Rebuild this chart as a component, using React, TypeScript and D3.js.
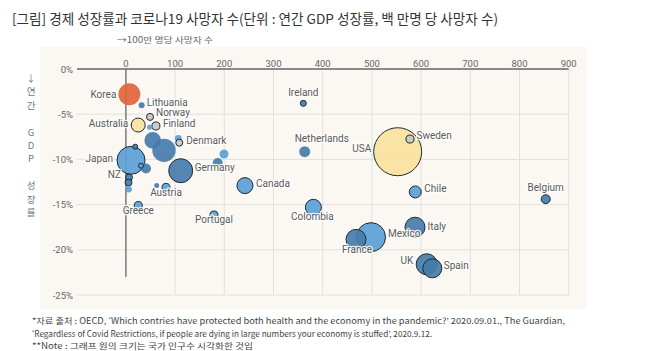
import React from "react";
import * as d3 from "d3";

// ---------- data ----------
const countries = [
  "Korea", "Lithuania", "Norway", "Australia", "Finland", "", "", "",
  "Denmark", "", "", "", "Japan", "", "", "", "Germany",
  "NZ", "", "", "", "Austria", "Greece", "Portugal", "Canada",
  "Ireland", "Netherlands", "USA", "Sweden", "Chile", "Belgium",
  "Colombia", "France", "Mexico", "Italy", "UK", "Spain",
];
// deaths per million
const deaths = [
  7, 32, 49, 25, 61, 48, 54.5, 77.4,
  106.5, 108.5, 199.4, 186.6, 10.4, 19, 30.7, 40.9, 111.4,
  6.3, 5.3, 5.3, 62.6, 81.5, 25.2, 179, 242,
  360.6, 363.4, 552.4, 577.4, 588.2, 853.3,
  381, 467.7, 498.2, 587.6, 611.4, 622.8,
];
// annual GDP growth %
const gdp = [
  -2.8, -4.0, -5.3, -6.2, -6.3, -6.45, -7.9, -9.0,
  -7.7, -8.15, -9.4, -10.4, -10.1, -8.6, -10.7, -11.0, -11.25,
  -12.0, -12.55, -13.3, -12.9, -13.1, -15.1, -16.15, -12.9,
  -3.8, -9.15, -9.15, -7.75, -13.6, -14.4,
  -15.3, -18.85, -18.6, -17.5, -21.6, -22.05,
];
// population (millions)
const population = [
  69, 5.2, 7, 28, 9.2, 3.6, 39.5, 78,
  7, 7, 11.6, 14.3, 112, 3.6, 3.6, 14.3, 82.5,
  7, 7, 6.2, 3.6, 9.2, 9.2, 9.2, 36.7,
  5.2, 17.3, 330, 9.2, 20.6, 11.6,
  36.7, 57.3, 120.5, 57.3, 63.2, 51.7,
];
// colour group
const groups = [
  "korea", "dark", "gray", "yellow", "gray", "light", "dark", "dark",
  "light", "gray", "light", "dark", "light", "dark", "light", "dark", "dark",
  "dark", "dark", "light", "dark", "light", "light", "light", "light",
  "dark", "dark", "yellow", "gray", "light", "dark",
  "light", "dark", "light", "dark", "dark", "dark",
];

const xTicks = [0, 100, 200, 300, 400, 500, 600, 700, 800, 900];
const yTicks = [0, -5, -10, -15, -20, -25];
const yTitleChars = ["↓", "연", "간", "", "G", "D", "P", "", "성", "장", "률"];

const title = "[그림] 경제 성장률과 코로나19 사망자 수(단위 : 연간 GDP 성장률, 백 만명 당 사망자 수)";
const subtitle = "→100만 명당 사망자 수";
const notes = [
  "*자료 출처 : OECD, ‘Which contries have protected both health and the economy in the pandemic?’ 2020.09.01., The Guardian,",
  "‘Regardless of Covid Restrictions, if people are dying in large numbers your economy is stuffed’, 2020.9.12.",
  "**Note : 그래프 원의 크기는 국가 인구수 시각화한 것임",
];

// ---------- layout / style ----------
const outlined = [
  false, false, true, true, true, false, false, false,
  false, true, false, false, true, true, true, false, true,
  true, true, false, false, true, true, true, true,
  true, false, true, true, true, true,
  true, true, true, true, true, true,
];
// [dx, baseline dy, anchor]
const labelLayout: Record<string, [number, number, string]> = {
  Korea: [-13, 3.5, "end"],
  Lithuania: [5, 1, "start"],
  Norway: [6, -0.5, "start"],
  Australia: [-10, 1.5, "end"],
  Finland: [7, 1, "start"],
  Denmark: [8, 5, "start"],
  Japan: [-18, 1.5, "end"],
  Germany: [14, 0, "start"],
  NZ: [-8, 1, "end"],
  Austria: [0, 8.5, "middle"],
  Greece: [0, 8.5, "middle"],
  Portugal: [0, 8.5, "middle"],
  Canada: [11, 1.5, "start"],
  Ireland: [0, -7, "middle"],
  Netherlands: [-10, -9.5, "start"],
  USA: [-26.5, 0.5, "end"],
  Sweden: [6.5, 0, "start"],
  Chile: [9, 0.5, "start"],
  Belgium: [0, -8, "middle"],
  Colombia: [-1, 12.5, "middle"],
  France: [1, 13.5, "middle"],
  Mexico: [17, 0, "start"],
  Italy: [12.5, 3, "start"],
  UK: [-13.5, 0, "end"],
  Spain: [11.5, 0.5, "start"],
};
const fills: Record<string, string> = {
  korea: "#e0643a",
  yellow: "#f8e2a0",
  gray: "#c8c8c8",
  light: "#5b9fd6",
  dark: "#457cab",
};

const W = 650, H = 351;

export default function App() {
  const x = d3.scaleLinear().domain([0, 900]).range([125.9, 568.7]);
  const y = d3.scaleLinear().domain([0, -25]).range([69, 295]);
  const r = d3.scaleSqrt().domain([0, 330]).range([0, 24]);

  const points = countries.map((name, i) => ({
    name, i, cx: x(deaths[i]), cy: y(gdp[i]), rr: r(population[i]),
  }));
  const ordered = [...points].sort((a, b) => b.rr - a.rr);
  const font = "Roboto, 'Noto Sans', sans-serif";
  const kfont = "'Noto Sans CJK KR', sans-serif";

  return (
    <svg width={W} height={H} style={{ position: "absolute", left: 0, top: 0, background: "#fff" }}>
      <rect x={40} y={47} width={547} height={262} fill="#fbf8f3" />
      <text x={12} y={24} fontFamily={kfont} fontSize={13.5} fill="#333"
        textLength={486} lengthAdjust="spacingAndGlyphs">{title}</text>
      <text x={117} y={43} fontFamily={kfont} fontSize={8.5} fill="#666"
        textLength={96} lengthAdjust="spacingAndGlyphs">{subtitle}</text>

      {/* grid */}
      {yTicks.slice(1).map((t) => (
        <line key={"hy" + t} x1={77} x2={x(900)} y1={y(t)} y2={y(t)} stroke="#e4e0da" strokeWidth={1} />
      ))}
      {xTicks.slice(1).map((t) => (
        <line key={"vx" + t} x1={x(t)} x2={x(t)} y1={y(0)} y2={y(-25)} stroke="#e4e0da" strokeWidth={1} />
      ))}
      <line x1={77} x2={x(900)} y1={y(0)} y2={y(0)} stroke="#666" strokeWidth={1.3} />
      <line x1={x(0)} x2={x(0)} y1={y(0)} y2={277} stroke="#666" strokeWidth={1.3} />

      {xTicks.map((t) => (
        <text key={"xt" + t} x={x(t)} y={66.5} textAnchor="middle" fontFamily={font} fontSize={9.5} fill="#666">{t}</text>
      ))}
      {yTicks.map((t) => (
        <text key={"yt" + t} x={73} y={y(t) + 3.5} textAnchor="end" fontFamily={font} fontSize={9.5} fill="#666">{t + "%"}</text>
      ))}
      {yTitleChars.map((c, i) => (
        <text key={"yc" + i} x={31} y={82 + i * 13.4} textAnchor="middle" fontFamily={kfont} fontSize={9.5} fill="#777">{c}</text>
      ))}

      {/* bubbles */}
      {ordered.map((p) => (
        <circle key={"c" + p.i} cx={p.cx} cy={p.cy} r={p.rr}
          fill={fills[groups[p.i]]} fillOpacity={0.92}
          stroke={outlined[p.i] ? "#1f2a33" : "none"} strokeWidth={1} />
      ))}

      {/* labels */}
      {points.filter((p) => p.name && labelLayout[p.name]).map((p) => {
        const [dx, dy, anchor] = labelLayout[p.name];
        return (
          <text key={"l" + p.i} x={p.cx + dx} y={p.cy + dy} textAnchor={anchor as any}
            fontFamily={font} fontSize={10} fill="#5a5a5a"
            stroke="#ffffff" strokeWidth={2.5} strokeOpacity={0.85} paintOrder="stroke"
            strokeLinejoin="round">{p.name}</text>
        );
      })}

      {notes.map((n, i) => (
        <text key={"n" + i} x={32} y={324 + i * 12.5} fontFamily={kfont} fontSize={8.3} fill="#444"
          textLength={[533, 400, 221][i]} lengthAdjust="spacingAndGlyphs">{n}</text>
      ))}
    </svg>
  );
}
